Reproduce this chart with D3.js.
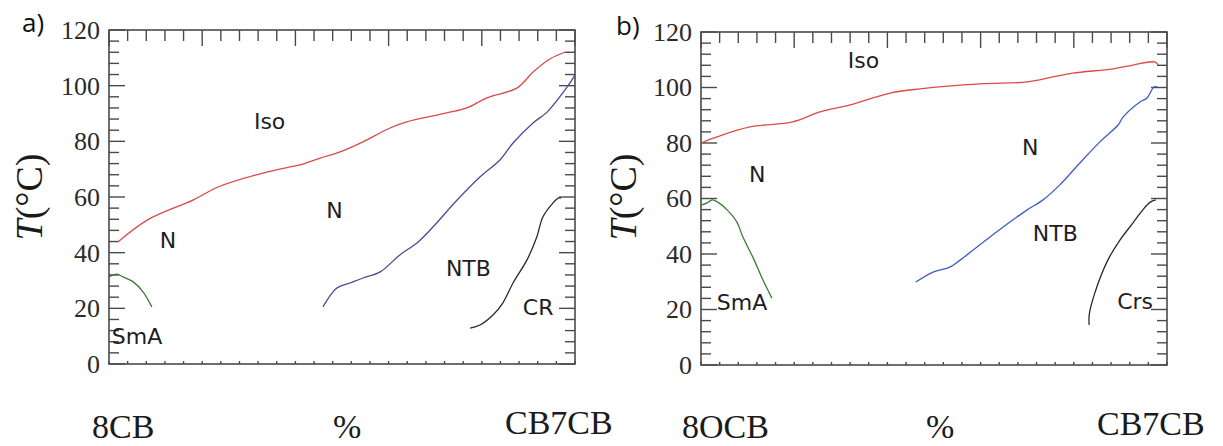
<!DOCTYPE html>
<html>
<head>
<meta charset="utf-8">
<script src="https://cdn.jsdelivr.net/npm/d3@7"></script>
<style>
  html, body { margin: 0; padding: 0; background: #fff; }
  svg { display: block; }
</style>
</head>
<body>
<svg id="chart" width="1223" height="446"></svg>
<script>
// ---------- DATA (x = % CB7CB, y = T in °C) ----------
const panelLetters = ["a)", "b)"];
const leftCompounds = ["8CB", "8OCB"];
const rightCompound = "CB7CB";
const xAxisMiddle = "%";
const yTickValues = [0, 20, 40, 60, 80, 100, 120];

// panel a
const a_isoN_x = [1.9, 8.2, 18.0, 23.4, 33.0, 38.8, 41.0, 45.3, 49.6, 54.5, 60.3, 63.9, 72.5, 76.8, 81.1, 87.6, 91.0, 94.6, 97.9];
const a_isoN_y = [43.8, 51.7, 58.9, 63.6, 68.6, 70.8, 71.5, 74.0, 76.2, 79.8, 84.8, 87.0, 90.2, 92.0, 95.6, 99.2, 104.9, 109.6, 112.1];
const a_ntb_x = [45.9, 48.9, 51.7, 54.5, 58.2, 62.4, 66.1, 69.5, 74.7, 79.6, 83.9, 86.7, 91.0, 94.0, 98.3, 100];
const a_ntb_y = [20.5, 27.3, 29.1, 30.9, 33.1, 39.2, 43.5, 49.2, 58.9, 67.2, 73.3, 79.4, 86.6, 90.5, 99.5, 103.8];
const a_cr_x = [77.5, 79.6, 82.4, 84.5, 86.7, 89.7, 91.8, 93.1, 95.3, 96.4, 97.0];
const a_cr_y = [12.9, 14.0, 17.6, 21.9, 29.1, 37.4, 45.6, 52.8, 57.9, 59.6, 59.6];
const a_sma_x = [0, 1.7, 3.0, 5.2, 7.3, 9.2];
const a_sma_y = [31.3, 32.3, 31.3, 29.5, 25.9, 20.5];

// panel b
const b_isoN_x = [0, 3.4, 10.5, 19.7, 25.5, 32.0, 40.6, 47.0, 59.9, 70.0, 75.5, 79.8, 88.4, 92.7, 97.4, 98.1];
const b_isoN_y = [80.0, 82.2, 85.8, 87.6, 91.2, 93.7, 98.0, 99.5, 101.3, 102.0, 103.8, 105.2, 106.7, 108.1, 109.2, 108.1];
const b_ntb_x = [46.1, 49.8, 53.4, 55.6, 62.0, 66.3, 70.0, 73.4, 77.0, 81.3, 85.6, 89.5, 90.6, 94.2, 95.7, 97.2, 97.9];
const b_ntb_y = [29.9, 33.5, 35.3, 37.8, 46.1, 51.5, 55.9, 59.5, 64.9, 72.8, 80.4, 86.5, 89.4, 94.8, 96.2, 100.2, 100.2];
const b_crs_x = [83.3, 83.3, 84.5, 87.3, 89.9, 92.7, 94.8, 96.4, 97.6];
const b_crs_y = [14.4, 18.0, 25.9, 37.8, 45.0, 51.2, 55.9, 58.7, 59.5];
const b_sma_x = [0.2, 1.3, 2.4, 3.6, 5.6, 7.7, 9.0, 11.2, 13.3, 15.2];
const b_sma_y = [57.7, 58.4, 59.5, 58.7, 55.9, 51.5, 46.1, 38.6, 30.6, 24.1];

// phase labels: text, x (%), y (°C) of label anchor (left, baseline)
const a_labelText = ["Iso", "N", "N", "SmA", "NTB", "CR"];
const a_labelX = [31.1, 10.9, 46.6, 0.6, 72.3, 88.8];
const a_labelY = [84.4, 41.7, 52.5, 7.2, 31.6, 17.6];
const b_labelText = ["Iso", "N", "N", "SmA", "NTB", "Crs"];
const b_labelX = [31.5, 10.3, 68.9, 3.4, 71.2, 89.3];
const b_labelY = [107.0, 65.9, 75.7, 19.8, 44.7, 20.2];

// ---------- DRAWING ----------
const svg = d3.select("#chart");
svg.append("rect").attr("width", 1223).attr("height", 446).attr("fill", "#fff");

const zip = (xs, ys) => xs.map((x, i) => [x, ys[i]]);

const panels = [
  {
    left: 109, top: 30, right: 575, bottom: 364,
    letter: panelLetters[0], letterX: 22, letterY: 32,
    ylabX: 42,
    leftName: leftCompounds[0], leftNameX: 92, pctX: 333, rightNameX: 505, rightNameY: 434,
    series: [
      { d: zip(a_isoN_x, a_isoN_y), c: "#d94a4a" },
      { d: zip(a_ntb_x, a_ntb_y), c: "#4b4b96" },
      { d: zip(a_cr_x, a_cr_y), c: "#2a2a2a" },
      { d: zip(a_sma_x, a_sma_y), c: "#3d7a35" }
    ],
    labels: { t: a_labelText, x: a_labelX, y: a_labelY }
  },
  {
    left: 701, top: 32, right: 1167, bottom: 365,
    letter: panelLetters[1], letterX: 616, letterY: 35,
    ylabX: 636,
    leftName: leftCompounds[1], leftNameX: 682, pctX: 926, rightNameX: 1097, rightNameY: 435,
    series: [
      { d: zip(b_isoN_x, b_isoN_y), c: "#de4a44" },
      { d: zip(b_ntb_x, b_ntb_y), c: "#3d5cc8" },
      { d: zip(b_crs_x, b_crs_y), c: "#2a2a2a" },
      { d: zip(b_sma_x, b_sma_y), c: "#3d7a35" }
    ],
    labels: { t: b_labelText, x: b_labelX, y: b_labelY }
  }
];

const axisColor = "#4a4a4a";
const minorX = d3.range(0, 101, 4);
const minorY = d3.range(0, 121, 4);

panels.forEach(p => {
  const x = d3.scaleLinear().domain([0, 100]).range([p.left, p.right]);
  const y = d3.scaleLinear().domain([0, 120]).range([p.bottom, p.top]);
  const g = svg.append("g");

  // ticks (inward)
  const tg = g.append("g").attr("stroke", axisColor).attr("stroke-width", 1.4);
  minorY.forEach(v => {
    const len = (v % 20 === 0) ? 16 : 10;
    tg.append("line").attr("x1", p.left).attr("x2", p.left + len).attr("y1", y(v)).attr("y2", y(v));
    tg.append("line").attr("x1", p.right).attr("x2", p.right - len).attr("y1", y(v)).attr("y2", y(v));
  });
  minorX.forEach(v => {
    const len = (v % 20 === 0) ? 16 : 11;
    tg.append("line").attr("x1", x(v)).attr("x2", x(v)).attr("y1", p.top).attr("y2", p.top + len);
    tg.append("line").attr("x1", x(v)).attr("x2", x(v)).attr("y1", p.bottom).attr("y2", p.bottom - 3);
  });

  // frame
  g.append("rect")
    .attr("x", p.left).attr("y", p.top)
    .attr("width", p.right - p.left).attr("height", p.bottom - p.top)
    .attr("fill", "none").attr("stroke", axisColor).attr("stroke-width", 1.6);

  // y tick labels
  g.append("g").selectAll("text").data(yTickValues).join("text")
    .attr("x", p.left - 9).attr("y", d => y(d)).attr("dy", "0.34em")
    .attr("text-anchor", "end")
    .attr("font-family", "'Liberation Serif', 'Times New Roman', serif")
    .attr("font-size", 26).attr("fill", "#2a2a2a")
    .text(d => d);

  // series
  const line = d3.line().x(d => x(d[0])).y(d => y(d[1])).curve(d3.curveCatmullRom.alpha(0.5));
  p.series.forEach(s => {
    g.append("path").attr("d", line(s.d))
      .attr("fill", "none").attr("stroke", s.c)
      .attr("stroke-width", 1.3).attr("stroke-linejoin", "round");
  });

  // phase labels
  g.append("g").selectAll("text").data(p.labels.t).join("text")
    .attr("x", (d, i) => x(p.labels.x[i]))
    .attr("y", (d, i) => y(p.labels.y[i]))
    .attr("font-family", "'DejaVu Sans', Verdana, sans-serif")
    .attr("font-size", 22).attr("fill", "#1e1e1e")
    .text(d => d);

  // panel letter
  g.append("text").attr("x", p.letterX).attr("y", p.letterY)
    .attr("font-family", "'Open Sans', 'Noto Sans', sans-serif")
    .attr("font-size", 26).attr("fill", "#111")
    .text(p.letter);

  // y label T(°C)
  const yl = g.append("text")
    .attr("transform", `translate(${p.ylabX},197) rotate(-90)`)
    .attr("text-anchor", "middle")
    .attr("font-family", "'Liberation Serif', 'Times New Roman', serif")
    .attr("font-size", 38).attr("fill", "#1a1a1a");
  yl.append("tspan").attr("font-style", "italic").text("T");
  yl.append("tspan").text("(°C)");

  // bottom labels
  const serif = "'Liberation Serif', 'Times New Roman', serif";
  g.append("text").attr("x", p.leftNameX).attr("y", 438)
    .attr("font-family", serif).attr("font-size", 34).attr("fill", "#1a1a1a").text(p.leftName);
  g.append("text").attr("x", p.pctX).attr("y", 438)
    .attr("font-family", serif).attr("font-size", 34).attr("fill", "#1a1a1a").text(xAxisMiddle);
  g.append("text").attr("x", p.rightNameX).attr("y", p.rightNameY)
    .attr("font-family", serif).attr("font-size", 34).attr("fill", "#1a1a1a").text(rightCompound);
});
</script>
</body>
</html>
